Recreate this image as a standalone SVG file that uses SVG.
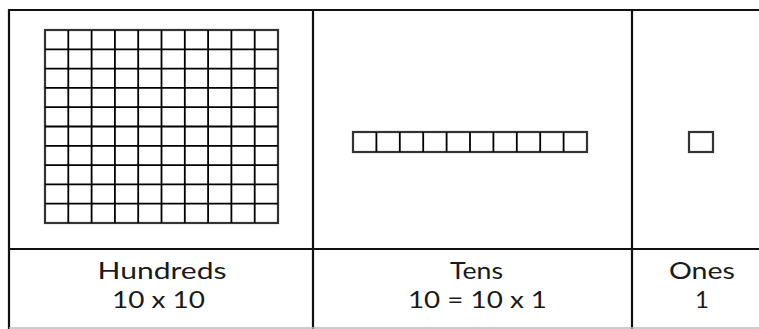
<svg xmlns="http://www.w3.org/2000/svg" width="759" height="329" viewBox="0 0 759 329">
<defs>
<style>
.frame{stroke:#111;stroke-width:2.2;fill:none}
.grid{stroke:#000;stroke-width:1.8;fill:none}
.gridout{stroke:#333;stroke-width:2.2;fill:#fff}
.lbl{font-family:Lato,"Open Sans",sans-serif;font-size:24px;fill:#1a1a1a;text-anchor:middle}
</style>
</defs>
<rect width="759" height="329" fill="#fff"/>
<g id="table">
<path class="frame" d="M9,329 V10 H759 M313,10 V329 M632,10 V329 M9,249 H759"/>
<path d="M9,328 H759" stroke="#bbb" stroke-width="1.5"/>
</g>
<g id="hundreds">
<rect class="gridout" x="45" y="30" width="233" height="193"/>
<path class="grid" d="M68.3,30V223 M91.6,30V223 M114.9,30V223 M138.2,30V223 M161.5,30V223 M184.8,30V223 M208.1,30V223 M231.4,30V223 M254.7,30V223 M45,49.3H278 M45,68.6H278 M45,87.9H278 M45,107.2H278 M45,126.5H278 M45,145.8H278 M45,165.1H278 M45,184.4H278 M45,203.7H278"/>
<text class="lbl" x="162" y="279" textLength="129" lengthAdjust="spacingAndGlyphs">Hundreds</text>
<text class="lbl" x="158.5" y="308" textLength="93" lengthAdjust="spacingAndGlyphs">10 x 10</text>
</g>
<g id="tens">
<rect class="gridout" x="353" y="132" width="234" height="20"/>
<path class="grid" d="M376.4,132V152 M399.8,132V152 M423.2,132V152 M446.6,132V152 M470,132V152 M493.4,132V152 M516.8,132V152 M540.2,132V152 M563.6,132V152"/>
<text class="lbl" x="476.5" y="279" textLength="53" lengthAdjust="spacingAndGlyphs">Tens</text>
<text class="lbl" x="477.5" y="308" textLength="139" lengthAdjust="spacingAndGlyphs">10 = 10 x 1</text>
</g>
<g id="ones">
<rect class="gridout" x="689" y="132" width="24" height="20"/>
<text class="lbl" x="702" y="279" textLength="66" lengthAdjust="spacingAndGlyphs">Ones</text>
<text class="lbl" x="702" y="308">1</text>
</g>
</svg>
